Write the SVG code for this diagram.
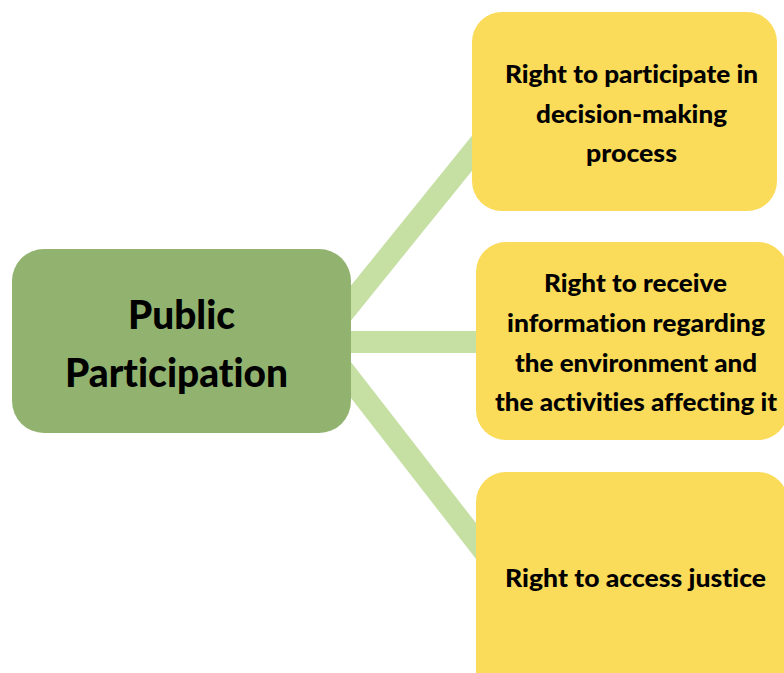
<svg xmlns="http://www.w3.org/2000/svg" width="784" height="673" viewBox="0 0 784 673">
  <style>
    .link { stroke: #C6DFA3; stroke-width: 22; fill: none; }
    .hub { fill: #91B36F; }
    .leaf { fill: #FADB5A; }
    text { font-family: "Lato", "Liberation Sans", sans-serif; font-weight: 900; fill: #000000; text-anchor: middle; font-variant-ligatures: none; font-feature-settings: "liga" 0, "clig" 0, "dlig" 0; }
    .hubText { font-size: 40px; }
    .leafText { font-size: 24.5px; }
  </style>
  <rect x="0" y="0" width="784" height="673" fill="#FFFFFF"/>

  <!-- connectors -->
  <g id="connectors">
    <line class="link" x1="330" y1="329" x2="490" y2="131"/>
    <line class="link" x1="340" y1="342" x2="490" y2="342"/>
    <line class="link" x1="330" y1="353" x2="490" y2="559"/>
  </g>

  <!-- central node -->
  <g id="public-participation">
    <rect class="hub" x="12" y="249" width="339" height="184" rx="32" ry="32"/>
    <text class="hubText" x="181.5" y="329" textLength="107" lengthAdjust="spacingAndGlyphs">Public</text>
    <text class="hubText" x="176.5" y="387" textLength="223" lengthAdjust="spacingAndGlyphs">Participation</text>
  </g>

  <!-- rights -->
  <g id="right-participate">
    <rect class="leaf" x="472" y="12" width="305" height="199" rx="30" ry="30"/>
    <text class="leafText" x="631.5" y="83" textLength="253" lengthAdjust="spacingAndGlyphs">Right to participate in</text>
    <text class="leafText" x="631.5" y="123" textLength="191" lengthAdjust="spacingAndGlyphs">decision-making</text>
    <text class="leafText" x="631.5" y="162" textLength="91" lengthAdjust="spacingAndGlyphs">process</text>
  </g>

  <g id="right-information">
    <rect class="leaf" x="476" y="242" width="312" height="198" rx="30" ry="30"/>
    <text class="leafText" x="635.5" y="292" textLength="183" lengthAdjust="spacingAndGlyphs">Right to receive</text>
    <text class="leafText" x="636" y="332" textLength="258" lengthAdjust="spacingAndGlyphs">information regarding</text>
    <text class="leafText" x="636" y="372" textLength="242" lengthAdjust="spacingAndGlyphs">the environment and</text>
    <text class="leafText" x="636" y="411" textLength="282" lengthAdjust="spacingAndGlyphs">the activities affecting it</text>
  </g>

  <g id="right-justice">
    <rect class="leaf" x="476" y="472" width="312" height="230" rx="30" ry="30"/>
    <text class="leafText" x="635.5" y="587" textLength="261" lengthAdjust="spacingAndGlyphs">Right to access justice</text>
  </g>
</svg>
